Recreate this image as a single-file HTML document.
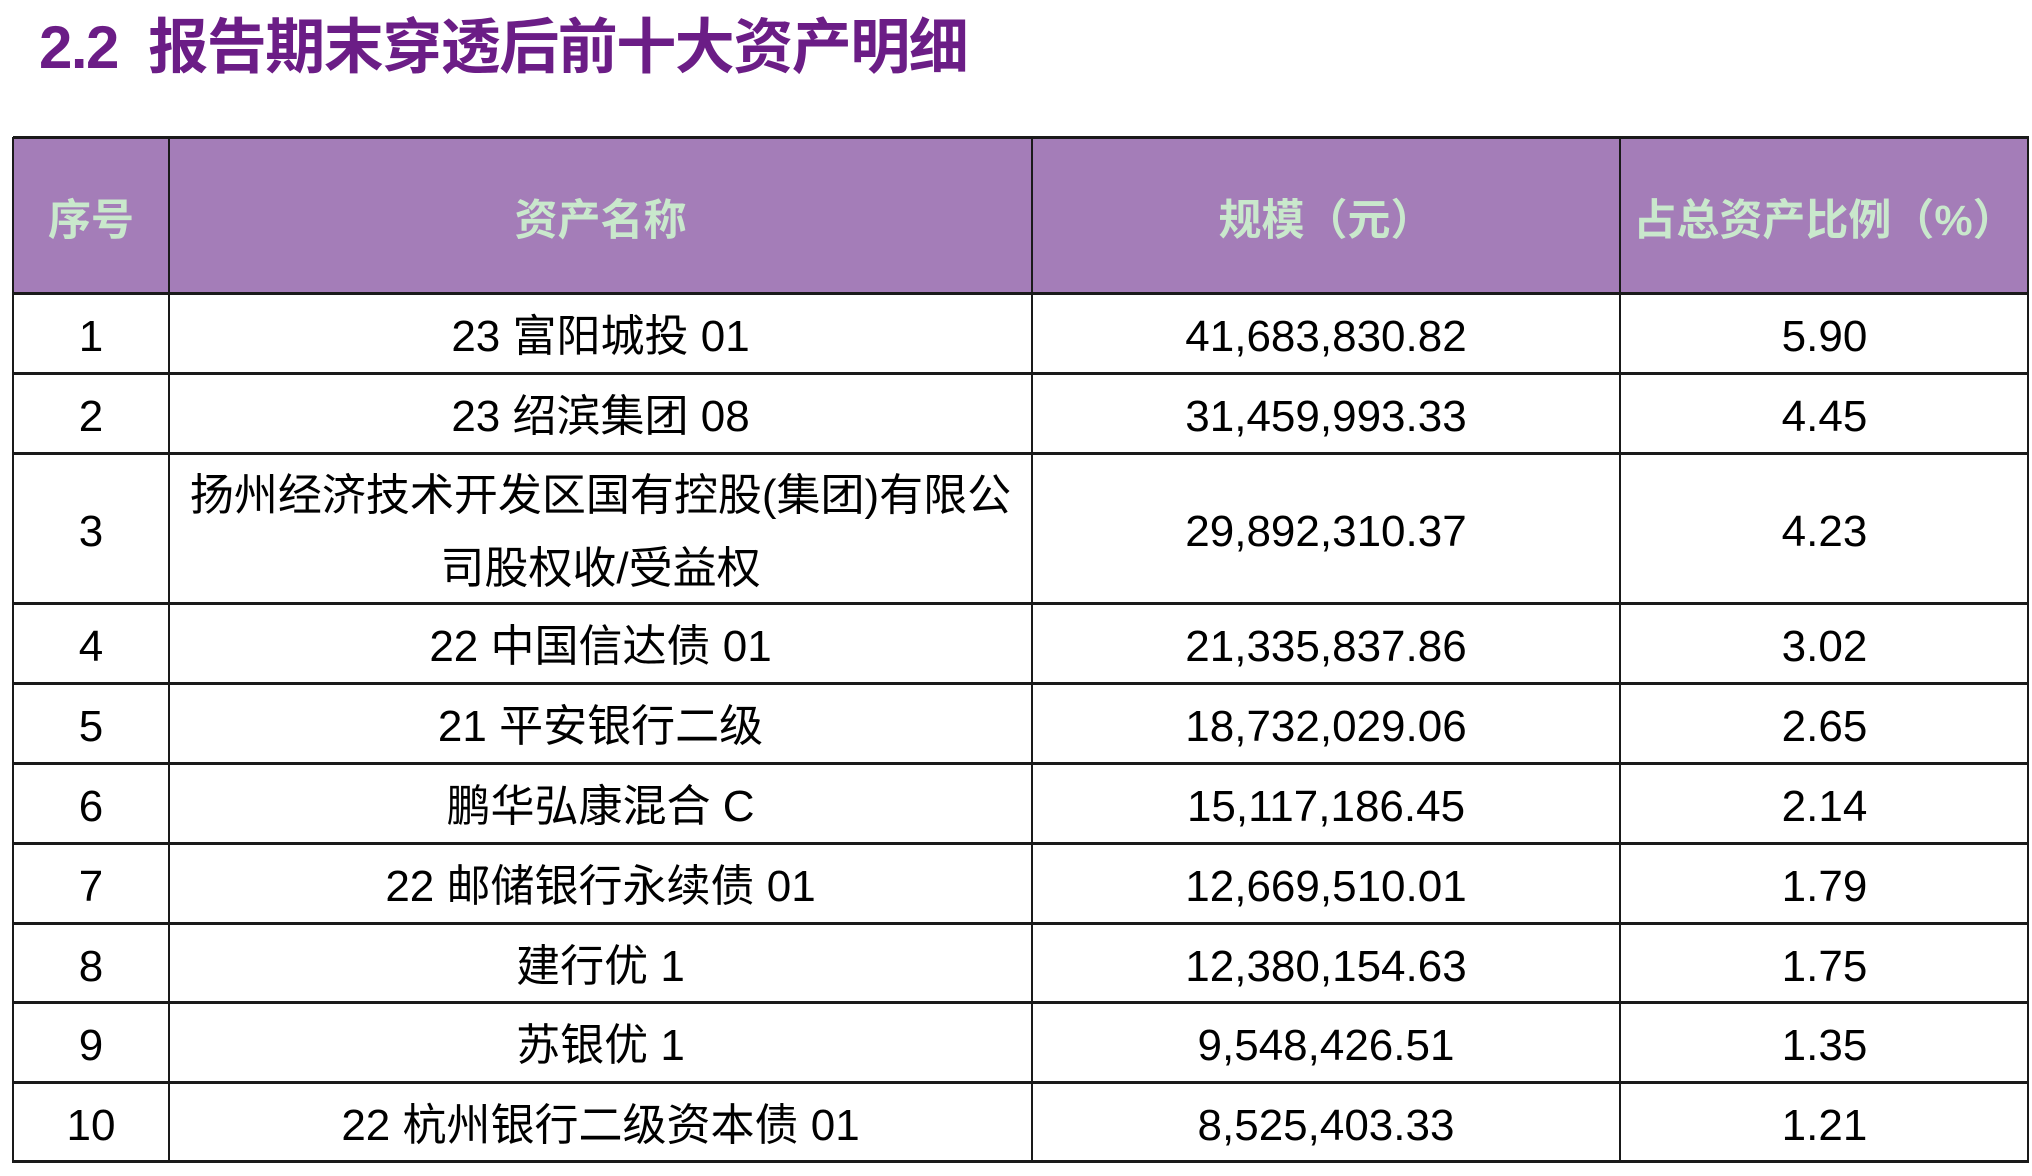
<!DOCTYPE html>
<html><head><meta charset="utf-8"><style>
body{margin:0;width:2032px;height:1176px;background:#fff;position:relative;overflow:hidden;font-family:"Liberation Sans","Noto Sans CJK SC",sans-serif;}
.t{position:absolute;left:39px;top:-1px;font-size:60px;font-weight:bold;color:#6b1d86;white-space:nowrap;letter-spacing:-1.5px}
.c{position:absolute;display:flex;align-items:center;justify-content:center;text-align:center;font-size:44px;color:#000;box-sizing:border-box;line-height:1.65;padding-top:9px}
.h{background:#a47db8;color:#c9e8cc;font-weight:bold;font-size:43px;padding-top:12px}
.hl{position:absolute;left:13px;width:2016px;height:3px;background:#1a1a1a}
.vl{position:absolute;top:137px;height:1026px;width:2px;background:#1a1a1a}
</style></head><body>
<div class="t">2.2&nbsp; 报告期末穿透后前十大资产明细</div>
<div class="c h" style="left:13px;top:137px;width:2016px;height:156px"></div>
<div class="c h" style="left:13px;top:137px;width:156px;height:156px">序号</div>
<div class="c h" style="left:169px;top:137px;width:863px;height:156px">资产名称</div>
<div class="c h" style="left:1032px;top:137px;width:588px;height:156px">规模（元）</div>
<div class="c h" style="left:1620px;top:137px;width:409px;height:156px">占总资产比例（%）</div>

<div class="c" style="left:13px;top:293px;width:156px;height:80px">1</div>
<div class="c" style="left:169px;top:293px;width:863px;height:80px">23 富阳城投 01</div>
<div class="c" style="left:1032px;top:293px;width:588px;height:80px">41,683,830.82</div>
<div class="c" style="left:1620px;top:293px;width:409px;height:80px">5.90</div>

<div class="c" style="left:13px;top:373px;width:156px;height:80px">2</div>
<div class="c" style="left:169px;top:373px;width:863px;height:80px">23 绍滨集团 08</div>
<div class="c" style="left:1032px;top:373px;width:588px;height:80px">31,459,993.33</div>
<div class="c" style="left:1620px;top:373px;width:409px;height:80px">4.45</div>

<div class="c" style="left:13px;top:453px;width:156px;height:150px">3</div>
<div class="c" style="left:169px;top:453px;width:863px;height:150px;padding:9px 0 0"><div>扬州经济技术开发区国有控股(集团)有限公<br>司股权收/受益权</div></div>
<div class="c" style="left:1032px;top:453px;width:588px;height:150px">29,892,310.37</div>
<div class="c" style="left:1620px;top:453px;width:409px;height:150px">4.23</div>

<div class="c" style="left:13px;top:603px;width:156px;height:80px">4</div>
<div class="c" style="left:169px;top:603px;width:863px;height:80px">22 中国信达债 01</div>
<div class="c" style="left:1032px;top:603px;width:588px;height:80px">21,335,837.86</div>
<div class="c" style="left:1620px;top:603px;width:409px;height:80px">3.02</div>

<div class="c" style="left:13px;top:683px;width:156px;height:80px">5</div>
<div class="c" style="left:169px;top:683px;width:863px;height:80px">21 平安银行二级</div>
<div class="c" style="left:1032px;top:683px;width:588px;height:80px">18,732,029.06</div>
<div class="c" style="left:1620px;top:683px;width:409px;height:80px">2.65</div>

<div class="c" style="left:13px;top:763px;width:156px;height:80px">6</div>
<div class="c" style="left:169px;top:763px;width:863px;height:80px">鹏华弘康混合 C</div>
<div class="c" style="left:1032px;top:763px;width:588px;height:80px">15,117,186.45</div>
<div class="c" style="left:1620px;top:763px;width:409px;height:80px">2.14</div>

<div class="c" style="left:13px;top:843px;width:156px;height:80px">7</div>
<div class="c" style="left:169px;top:843px;width:863px;height:80px">22 邮储银行永续债 01</div>
<div class="c" style="left:1032px;top:843px;width:588px;height:80px">12,669,510.01</div>
<div class="c" style="left:1620px;top:843px;width:409px;height:80px">1.79</div>

<div class="c" style="left:13px;top:923px;width:156px;height:80px">8</div>
<div class="c" style="left:169px;top:923px;width:863px;height:80px">建行优 1</div>
<div class="c" style="left:1032px;top:923px;width:588px;height:80px">12,380,154.63</div>
<div class="c" style="left:1620px;top:923px;width:409px;height:80px">1.75</div>

<div class="c" style="left:13px;top:1002px;width:156px;height:80px">9</div>
<div class="c" style="left:169px;top:1002px;width:863px;height:80px">苏银优 1</div>
<div class="c" style="left:1032px;top:1002px;width:588px;height:80px">9,548,426.51</div>
<div class="c" style="left:1620px;top:1002px;width:409px;height:80px">1.35</div>

<div class="c" style="left:13px;top:1082px;width:156px;height:80px">10</div>
<div class="c" style="left:169px;top:1082px;width:863px;height:80px">22 杭州银行二级资本债 01</div>
<div class="c" style="left:1032px;top:1082px;width:588px;height:80px">8,525,403.33</div>
<div class="c" style="left:1620px;top:1082px;width:409px;height:80px">1.21</div>

<div class="hl" style="top:136px"></div>
<div class="hl" style="top:292px"></div>
<div class="hl" style="top:372px"></div>
<div class="hl" style="top:452px"></div>
<div class="hl" style="top:602px"></div>
<div class="hl" style="top:682px"></div>
<div class="hl" style="top:762px"></div>
<div class="hl" style="top:842px"></div>
<div class="hl" style="top:922px"></div>
<div class="hl" style="top:1001px"></div>
<div class="hl" style="top:1081px"></div>
<div class="hl" style="top:1160px"></div>
<div class="vl" style="left:12px"></div>
<div class="vl" style="left:168px"></div>
<div class="vl" style="left:1031px"></div>
<div class="vl" style="left:1619px"></div>
<div class="vl" style="left:2027px"></div>
</body></html>
